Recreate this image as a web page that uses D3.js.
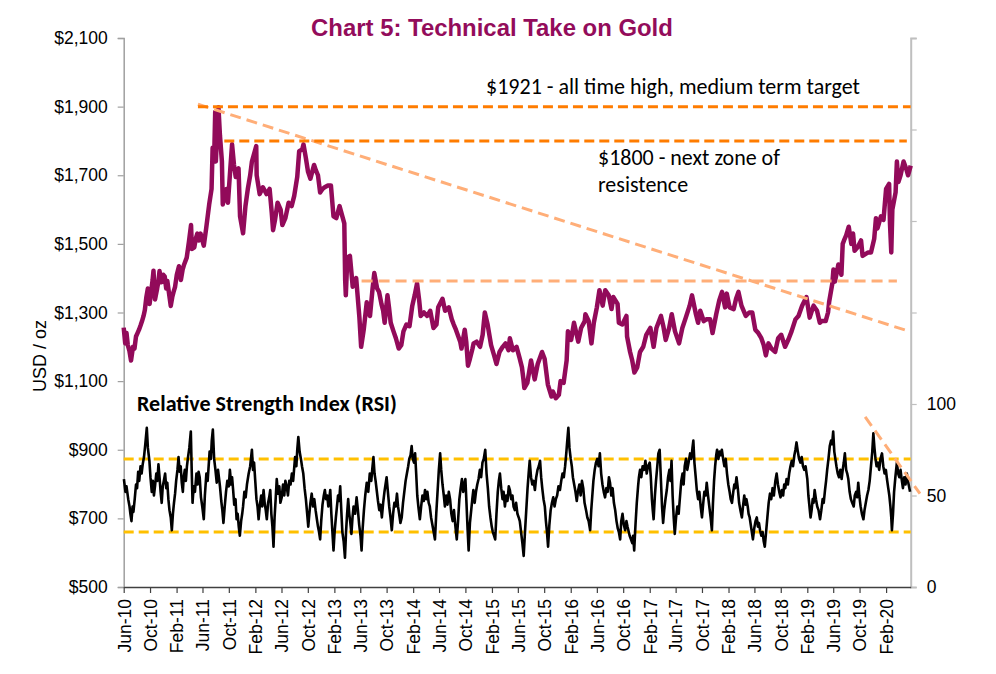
<!DOCTYPE html>
<html><head><meta charset="utf-8">
<script src="https://cdn.jsdelivr.net/npm/d3@7"></script>
<style>html,body{margin:0;padding:0;background:#fff;}svg{display:block;}</style>
</head><body>
<svg id="chart" width="996" height="674"></svg>
<script>
// ---------- DATA ----------
const chartTitle = "Chart 5: Technical Take on Gold";
const yAxisTitle = "USD / oz";
const rsiTitle = "Relative Strength Index (RSI)";
const priceTicks = [500, 700, 900, 1100, 1300, 1500, 1700, 1900, 2100];
const rsiTicks = [0, 50, 100, 150, 200, 250, 300];
const rsiTickLabels = ["0", "50", "100", "", "", "", ""];
const monthTicks = ["Jun-10","Oct-10","Feb-11","Jun-11","Oct-11","Feb-12","Jun-12","Oct-12","Feb-13","Jun-13","Oct-13","Feb-14","Jun-14","Oct-14","Feb-15","Jun-15","Oct-15","Feb-16","Jun-16","Oct-16","Feb-17","Jun-17","Oct-17","Feb-18","Jun-18","Oct-18","Feb-19","Jun-19","Oct-19","Feb-20"];
const dateRange = ["2010-06-01", "2020-05-25"];

const goldSeries = [
["2010-06-01",1256],["2010-06-08",1210],["2010-06-14",1240],["2010-06-20",1205],["2010-06-27",1190],["2010-07-05",1160],["2010-07-14",1200],["2010-07-21",1195],["2010-07-28",1230],["2010-08-04",1240],["2010-08-11",1250],["2010-08-18",1262],["2010-08-25",1275],["2010-09-01",1290],["2010-09-07",1307],["2010-09-14",1345],["2010-09-21",1370],["2010-09-29",1325],["2010-10-06",1360],["2010-10-13",1395],["2010-10-17",1422],["2010-10-24",1338],["2010-11-03",1370],["2010-11-09",1392],["2010-11-14",1421],["2010-11-22",1388],["2010-12-01",1410],["2010-12-08",1405],["2010-12-15",1370],["2010-12-20",1392],["2010-12-26",1365],
["2011-01-05",1319],["2011-01-12",1345],["2011-01-18",1360],["2011-01-25",1375],["2011-02-02",1410],["2011-02-12",1435],["2011-02-21",1395],["2011-03-01",1425],["2011-03-08",1440],["2011-03-20",1460],["2011-03-30",1505],["2011-04-09",1555],["2011-04-13",1485],["2011-04-24",1490],["2011-05-01",1515],["2011-05-08",1530],["2011-05-15",1510],["2011-05-23",1530],["2011-06-07",1495],["2011-06-18",1545],["2011-07-02",1615],["2011-07-13",1660],["2011-07-18",1780],["2011-07-25",1750],["2011-07-30",1885],["2011-08-02",1740],["2011-08-08",1825],["2011-08-14",1898],["2011-08-21",1815],["2011-08-30",1740],["2011-09-03",1615],["2011-09-12",1640],["2011-09-20",1660],["2011-09-27",1620],["2011-10-08",1720],["2011-10-16",1790],["2011-10-25",1730],["2011-11-02",1695],["2011-11-15",1720],["2011-11-22",1580],["2011-12-06",1531],["2011-12-17",1610],["2011-12-28",1660],
["2012-01-08",1700],["2012-01-16",1740],["2012-02-05",1785],["2012-02-07",1700],["2012-02-21",1645],["2012-03-07",1665],["2012-03-24",1645],["2012-04-07",1660],["2012-04-17",1590],["2012-04-23",1540],["2012-05-02",1570],["2012-05-14",1620],["2012-05-28",1600],["2012-06-05",1555],["2012-06-19",1575],["2012-07-04",1620],["2012-07-18",1610],["2012-07-30",1640],["2012-08-13",1695],["2012-08-22",1770],["2012-09-05",1775],["2012-09-11",1790],["2012-09-22",1750],["2012-10-02",1710],["2012-10-13",1690],["2012-10-30",1730],["2012-11-07",1715],["2012-11-17",1700],["2012-11-27",1650],["2012-12-08",1660],["2012-12-18",1665],
["2013-01-02",1670],["2013-01-16",1670],["2013-01-28",1580],["2013-02-10",1575],["2013-02-25",1610],["2013-03-10",1580],["2013-03-19",1560],["2013-03-23",1395],["2013-03-26",1350],["2013-04-02",1460],["2013-04-14",1465],["2013-04-27",1375],["2013-05-13",1400],["2013-05-28",1285],["2013-06-05",1200],["2013-06-17",1250],["2013-07-01",1330],["2013-07-08",1300],["2013-07-16",1290],["2013-07-28",1370],["2013-08-05",1415],["2013-08-18",1370],["2013-08-27",1360],["2013-09-07",1325],["2013-09-15",1305],["2013-09-22",1270],["2013-10-05",1350],["2013-10-12",1315],["2013-10-20",1270],["2013-11-02",1245],["2013-11-13",1225],["2013-11-26",1195],["2013-12-08",1205],["2013-12-18",1245],
["2014-01-01",1265],["2014-01-15",1260],["2014-01-28",1320],["2014-02-08",1350],["2014-02-19",1385],["2014-03-01",1335],["2014-03-08",1290],["2014-03-23",1300],["2014-04-07",1290],["2014-04-21",1305],["2014-05-06",1255],["2014-05-20",1265],["2014-05-28",1315],["2014-06-17",1340],["2014-06-29",1305],["2014-07-16",1315],["2014-07-30",1280],["2014-08-08",1265],["2014-08-18",1250],["2014-09-07",1215],["2014-09-13",1195],["2014-09-28",1250],["2014-10-05",1215],["2014-10-13",1145],["2014-10-22",1165],["2014-11-03",1195],["2014-11-08",1210],["2014-11-22",1215],["2014-12-08",1200],["2014-12-20",1235],["2014-12-30",1300],
["2015-01-12",1265],["2015-01-28",1205],["2015-02-11",1175],["2015-02-22",1150],["2015-03-08",1185],["2015-03-23",1200],["2015-04-05",1210],["2015-04-19",1190],["2015-04-25",1225],["2015-05-09",1190],["2015-05-26",1200],["2015-06-08",1170],["2015-06-20",1140],["2015-06-27",1105],["2015-07-01",1080],["2015-07-15",1095],["2015-08-01",1160],["2015-08-18",1105],["2015-09-01",1150],["2015-09-21",1185],["2015-10-03",1165],["2015-10-18",1090],["2015-11-04",1055],["2015-11-10",1070],["2015-11-24",1050],["2015-12-08",1060],["2015-12-16",1100],["2015-12-30",1095],
["2016-01-13",1160],["2016-01-19",1245],["2016-02-03",1220],["2016-02-16",1270],["2016-03-07",1215],["2016-03-20",1255],["2016-04-06",1275],["2016-04-09",1295],["2016-04-24",1275],["2016-05-07",1210],["2016-05-18",1270],["2016-06-01",1315],["2016-06-13",1365],["2016-06-28",1320],["2016-07-10",1365],["2016-07-26",1350],["2016-08-08",1310],["2016-08-16",1345],["2016-09-05",1325],["2016-09-11",1270],["2016-09-27",1265],["2016-10-16",1290],["2016-10-19",1230],["2016-11-02",1185],["2016-11-12",1160],["2016-11-22",1125],["2016-12-05",1140],["2016-12-18",1185],
["2017-01-02",1200],["2017-01-16",1235],["2017-02-04",1255],["2017-02-19",1200],["2017-03-04",1255],["2017-03-25",1290],["2017-04-05",1260],["2017-04-16",1220],["2017-05-02",1255],["2017-05-14",1295],["2017-05-29",1245],["2017-06-17",1210],["2017-07-02",1255],["2017-07-18",1285],["2017-08-05",1320],["2017-08-16",1350],["2017-09-03",1295],["2017-09-13",1270],["2017-09-23",1305],["2017-10-09",1275],["2017-10-21",1280],["2017-11-08",1280],["2017-11-19",1240],["2017-12-06",1295],["2017-12-20",1335],
["2018-01-02",1360],["2018-01-16",1315],["2018-01-24",1355],["2018-02-06",1315],["2018-02-25",1310],["2018-03-08",1340],["2018-03-19",1360],["2018-04-02",1320],["2018-04-22",1290],["2018-05-08",1300],["2018-05-22",1300],["2018-06-05",1250],["2018-06-19",1240],["2018-07-03",1225],["2018-07-14",1205],["2018-07-24",1175],["2018-08-05",1210],["2018-08-19",1195],["2018-09-05",1185],["2018-09-19",1225],["2018-10-03",1235],["2018-10-21",1200],["2018-11-06",1222],["2018-11-20",1245],["2018-12-08",1280],["2018-12-22",1290],
["2019-01-08",1320],["2019-01-28",1345],["2019-02-12",1285],["2019-03-02",1320],["2019-03-18",1305],["2019-03-31",1270],["2019-04-09",1275],["2019-04-27",1275],["2019-05-08",1300],["2019-05-13",1330],["2019-05-28",1385],["2019-06-02",1425],["2019-06-09",1390],["2019-06-25",1440],["2019-07-09",1410],["2019-07-15",1500],["2019-07-21",1510],["2019-07-31",1525],["2019-08-12",1550],["2019-08-24",1500],["2019-09-01",1530],["2019-09-08",1480],["2019-09-22",1490],["2019-10-08",1510],["2019-10-15",1465],["2019-10-28",1470],["2019-11-10",1475],["2019-11-23",1475],["2019-12-08",1515],["2019-12-16",1575],["2019-12-23",1545],
["2020-01-08",1580],["2020-01-20",1570],["2020-02-01",1660],["2020-02-15",1675],["2020-02-19",1560],["2020-02-25",1475],["2020-03-01",1600],["2020-03-16",1650],["2020-03-22",1740],["2020-03-29",1680],["2020-04-08",1700],["2020-04-22",1740],["2020-05-06",1715],["2020-05-13",1700],["2020-05-25",1728]
];

const rsiSeries = [
["2010-06-02",59],["2010-06-09",52],["2010-06-14",55],["2010-06-22",48],["2010-06-28",44],["2010-07-02",40],["2010-07-07",36],["2010-07-12",44],["2010-07-16",41],["2010-07-22",48],["2010-07-28",56],["2010-08-02",54],["2010-08-07",63],["2010-08-12",58],["2010-08-18",66],["2010-08-23",62],["2010-08-28",67],["2010-09-03",71],["2010-09-09",78],["2010-09-16",87],["2010-09-21",76],["2010-09-28",69],["2010-10-03",60],["2010-10-09",52],["2010-10-14",58],["2010-10-19",50],["2010-10-24",55],["2010-10-30",62],["2010-11-04",58],["2010-11-09",67],["2010-11-14",60],["2010-11-19",52],["2010-11-24",46],["2010-11-29",55],["2010-12-04",58],["2010-12-10",62],["2010-12-15",54],["2010-12-20",57],["2010-12-25",48],["2010-12-30",42],
["2011-01-05",38],["2011-01-10",31],["2011-01-15",40],["2011-01-20",46],["2011-01-25",51],["2011-01-30",58],["2011-02-05",64],["2011-02-10",71],["2011-02-15",63],["2011-02-20",66],["2011-02-25",57],["2011-03-02",52],["2011-03-06",60],["2011-03-11",64],["2011-03-16",58],["2011-03-21",66],["2011-03-26",71],["2011-04-01",76],["2011-04-08",85],["2011-04-12",64],["2011-04-16",46],["2011-04-21",55],["2011-04-27",52],["2011-05-04",62],["2011-05-09",56],["2011-05-14",63],["2011-05-19",60],["2011-05-25",49],["2011-05-31",44],["2011-06-07",37],["2011-06-12",50],["2011-06-19",62],["2011-06-25",58],["2011-07-04",74],["2011-07-10",70],["2011-07-14",80],["2011-07-19",86],["2011-07-25",70],["2011-07-31",64],["2011-08-06",57],["2011-08-12",64],["2011-08-16",60],["2011-08-21",55],["2011-08-27",47],["2011-09-01",42],["2011-09-06",35],["2011-09-12",44],["2011-09-18",52],["2011-09-24",58],["2011-10-01",55],["2011-10-06",64],["2011-10-12",56],["2011-10-16",60],["2011-10-21",53],["2011-10-26",45],["2011-11-01",48],["2011-11-06",37],["2011-11-11",40],["2011-11-16",33],["2011-11-21",28],["2011-11-27",36],["2011-12-02",40],["2011-12-06",44],["2011-12-12",52],["2011-12-18",49],["2011-12-24",56],
["2012-01-01",62],["2012-01-08",66],["2012-01-16",75],["2012-01-21",64],["2012-01-26",68],["2012-02-01",57],["2012-02-06",48],["2012-02-11",44],["2012-02-16",37],["2012-02-22",45],["2012-02-28",50],["2012-03-04",44],["2012-03-10",53],["2012-03-15",46],["2012-03-20",42],["2012-03-25",37],["2012-03-31",46],["2012-04-05",49],["2012-04-10",53],["2012-04-15",40],["2012-04-20",33],["2012-04-25",22],["2012-04-30",38],["2012-05-05",48],["2012-05-10",59],["2012-05-16",51],["2012-05-22",55],["2012-05-27",46],["2012-06-02",49],["2012-06-08",56],["2012-06-14",50],["2012-06-19",58],["2012-06-25",55],["2012-07-01",50],["2012-07-07",58],["2012-07-13",56],["2012-07-19",62],["2012-07-25",58],["2012-08-03",71],["2012-08-09",66],["2012-08-13",75],["2012-08-18",82],["2012-08-24",74],["2012-08-30",70],["2012-09-04",66],["2012-09-10",62],["2012-09-16",54],["2012-09-22",48],["2012-09-28",40],["2012-10-03",33],["2012-10-08",40],["2012-10-13",46],["2012-10-19",51],["2012-10-25",44],["2012-10-31",48],["2012-11-06",42],["2012-11-12",37],["2012-11-17",33],["2012-11-22",30],["2012-11-27",26],["2012-12-02",36],["2012-12-08",45],["2012-12-14",50],["2012-12-19",53],["2012-12-24",48],["2012-12-30",50],
["2013-01-04",44],["2013-01-09",49],["2013-01-13",53],["2013-01-18",40],["2013-01-23",30],["2013-01-28",20],["2013-02-02",30],["2013-02-08",38],["2013-02-13",44],["2013-02-18",50],["2013-02-23",47],["2013-02-28",55],["2013-03-05",42],["2013-03-10",30],["2013-03-16",25],["2013-03-22",16],["2013-03-27",30],["2013-04-01",40],["2013-04-06",48],["2013-04-11",40],["2013-04-16",35],["2013-04-21",29],["2013-04-26",38],["2013-05-01",44],["2013-05-08",40],["2013-05-15",49],["2013-05-21",42],["2013-05-27",34],["2013-06-02",28],["2013-06-07",20],["2013-06-12",32],["2013-06-18",42],["2013-06-24",50],["2013-07-01",57],["2013-07-08",52],["2013-07-15",62],["2013-07-22",58],["2013-07-27",65],["2013-08-01",71],["2013-08-06",62],["2013-08-11",58],["2013-08-16",53],["2013-08-22",47],["2013-08-28",42],["2013-09-03",45],["2013-09-09",38],["2013-09-15",46],["2013-09-21",52],["2013-09-26",56],["2013-10-01",60],["2013-10-07",52],["2013-10-13",44],["2013-10-19",38],["2013-10-25",31],["2013-10-31",40],["2013-11-06",46],["2013-11-12",44],["2013-11-18",51],["2013-11-23",44],["2013-11-28",40],["2013-12-04",35],["2013-12-10",38],["2013-12-16",46],["2013-12-22",52],["2013-12-28",58],
["2014-01-03",62],["2014-01-09",66],["2014-01-14",70],["2014-01-20",72],["2014-01-25",77],["2014-01-30",70],["2014-02-05",68],["2014-02-10",73],["2014-02-15",62],["2014-02-20",50],["2014-02-25",44],["2014-03-04",37],["2014-03-10",44],["2014-03-16",50],["2014-03-22",47],["2014-03-28",53],["2014-04-02",48],["2014-04-08",52],["2014-04-14",46],["2014-04-19",44],["2014-04-25",38],["2014-05-01",34],["2014-05-07",30],["2014-05-13",26],["2014-05-19",40],["2014-05-25",52],["2014-05-31",64],["2014-06-06",73],["2014-06-11",64],["2014-06-17",56],["2014-06-23",50],["2014-06-28",44],["2014-07-04",50],["2014-07-10",45],["2014-07-16",52],["2014-07-22",48],["2014-07-28",40],["2014-08-03",36],["2014-08-09",42],["2014-08-15",34],["2014-08-22",26],["2014-08-28",36],["2014-09-03",48],["2014-09-09",54],["2014-09-15",59],["2014-09-21",52],["2014-09-26",56],["2014-10-01",59],["2014-10-06",46],["2014-10-11",32],["2014-10-16",20],["2014-10-22",35],["2014-10-28",42],["2014-11-02",48],["2014-11-07",53],["2014-11-13",46],["2014-11-19",52],["2014-11-25",56],["2014-12-01",59],["2014-12-07",64],["2014-12-13",60],["2014-12-19",68],["2014-12-25",70],
["2015-01-01",75],["2015-01-07",62],["2015-01-13",54],["2015-01-19",44],["2015-01-25",38],["2015-01-31",33],["2015-02-05",30],["2015-02-11",28],["2015-02-16",26],["2015-02-22",40],["2015-02-28",52],["2015-03-05",58],["2015-03-10",62],["2015-03-16",54],["2015-03-22",48],["2015-03-27",52],["2015-04-02",44],["2015-04-08",50],["2015-04-14",47],["2015-04-20",55],["2015-04-25",53],["2015-05-01",48],["2015-05-07",50],["2015-05-12",44],["2015-05-18",42],["2015-05-24",46],["2015-05-30",40],["2015-06-05",38],["2015-06-10",36],["2015-06-16",30],["2015-06-22",24],["2015-06-28",17],["2015-07-04",30],["2015-07-10",42],["2015-07-16",54],["2015-07-21",62],["2015-07-26",69],["2015-08-01",60],["2015-08-07",56],["2015-08-13",58],["2015-08-19",53],["2015-08-25",60],["2015-08-31",64],["2015-09-06",66],["2015-09-12",69],["2015-09-17",60],["2015-09-22",54],["2015-09-28",48],["2015-10-04",44],["2015-10-09",36],["2015-10-14",30],["2015-10-19",22],["2015-10-25",34],["2015-10-31",42],["2015-11-06",46],["2015-11-12",49],["2015-11-18",44],["2015-11-24",48],["2015-11-30",50],["2015-12-06",55],["2015-12-13",53],["2015-12-19",58],["2015-12-25",62],["2015-12-31",60],
["2016-01-06",66],["2016-01-12",74],["2016-01-16",80],["2016-01-21",87],["2016-01-26",76],["2016-02-01",70],["2016-02-06",66],["2016-02-11",60],["2016-02-17",56],["2016-02-23",52],["2016-02-29",47],["2016-03-05",52],["2016-03-12",56],["2016-03-18",50],["2016-03-24",58],["2016-03-30",54],["2016-04-05",46],["2016-04-12",42],["2016-04-18",38],["2016-04-24",36],["2016-05-01",31],["2016-05-06",42],["2016-05-11",50],["2016-05-16",58],["2016-05-22",64],["2016-05-28",68],["2016-06-03",70],["2016-06-09",66],["2016-06-15",73],["2016-06-21",62],["2016-06-27",56],["2016-07-03",52],["2016-07-09",49],["2016-07-15",54],["2016-07-21",52],["2016-07-27",60],["2016-08-01",57],["2016-08-07",50],["2016-08-13",54],["2016-08-19",46],["2016-08-25",42],["2016-08-31",36],["2016-09-06",32],["2016-09-11",30],["2016-09-17",26],["2016-09-22",36],["2016-09-28",40],["2016-10-04",34],["2016-10-10",31],["2016-10-16",36],["2016-10-21",33],["2016-10-25",31],["2016-10-31",28],["2016-11-06",26],["2016-11-12",24],["2016-11-16",28],["2016-11-21",20],["2016-11-27",34],["2016-12-03",46],["2016-12-09",55],["2016-12-13",60],["2016-12-18",64],["2016-12-24",60],["2016-12-30",66],
["2017-01-06",64],["2017-01-12",69],["2017-01-18",62],["2017-01-24",66],["2017-02-01",68],["2017-02-06",60],["2017-02-11",48],["2017-02-15",42],["2017-02-19",37],["2017-02-25",50],["2017-03-02",58],["2017-03-08",66],["2017-03-13",73],["2017-03-19",75],["2017-03-25",58],["2017-03-30",44],["2017-04-04",35],["2017-04-09",42],["2017-04-15",48],["2017-04-21",53],["2017-04-27",60],["2017-05-03",64],["2017-05-08",58],["2017-05-13",69],["2017-05-18",50],["2017-05-23",38],["2017-05-28",29],["2017-06-03",38],["2017-06-09",44],["2017-06-15",40],["2017-06-21",49],["2017-06-27",58],["2017-07-03",62],["2017-07-08",56],["2017-07-13",66],["2017-07-19",70],["2017-07-25",64],["2017-07-31",68],["2017-08-07",73],["2017-08-13",70],["2017-08-18",76],["2017-08-22",80],["2017-08-27",68],["2017-09-02",60],["2017-09-07",53],["2017-09-13",48],["2017-09-19",52],["2017-09-25",44],["2017-10-01",38],["2017-10-07",46],["2017-10-12",52],["2017-10-18",50],["2017-10-23",57],["2017-10-29",50],["2017-11-04",44],["2017-11-10",38],["2017-11-16",31],["2017-11-21",46],["2017-11-26",58],["2017-12-01",66],["2017-12-06",72],["2017-12-10",75],["2017-12-16",70],["2017-12-22",74],["2017-12-27",72],
["2018-01-01",75],["2018-01-07",70],["2018-01-13",66],["2018-01-19",70],["2018-01-25",62],["2018-01-31",56],["2018-02-06",52],["2018-02-11",48],["2018-02-17",46],["2018-02-23",52],["2018-02-28",56],["2018-03-04",54],["2018-03-10",60],["2018-03-16",54],["2018-03-22",46],["2018-03-28",42],["2018-04-04",38],["2018-04-09",44],["2018-04-15",50],["2018-04-20",45],["2018-04-25",48],["2018-05-01",44],["2018-05-05",40],["2018-05-10",38],["2018-05-15",34],["2018-05-20",30],["2018-05-25",26],["2018-05-31",32],["2018-06-06",36],["2018-06-12",38],["2018-06-17",33],["2018-06-22",35],["2018-06-27",31],["2018-07-03",28],["2018-07-09",30],["2018-07-14",25],["2018-07-19",22],["2018-07-25",30],["2018-07-31",38],["2018-08-06",46],["2018-08-12",51],["2018-08-18",48],["2018-08-24",54],["2018-08-30",50],["2018-09-06",58],["2018-09-12",62],["2018-09-18",56],["2018-09-24",52],["2018-09-30",49],["2018-10-06",53],["2018-10-12",50],["2018-10-17",56],["2018-10-22",54],["2018-10-28",59],["2018-11-03",56],["2018-11-09",62],["2018-11-15",66],["2018-11-21",69],["2018-11-27",66],["2018-12-03",72],["2018-12-08",75],["2018-12-13",79],["2018-12-19",74],["2018-12-25",70],["2018-12-31",68],
["2019-01-06",71],["2019-01-12",66],["2019-01-18",64],["2019-01-24",66],["2019-02-01",59],["2019-02-06",50],["2019-02-11",44],["2019-02-16",38],["2019-02-21",42],["2019-02-26",48],["2019-03-02",46],["2019-03-07",53],["2019-03-13",48],["2019-03-19",44],["2019-03-25",42],["2019-04-01",37],["2019-04-07",42],["2019-04-13",48],["2019-04-18",46],["2019-04-24",53],["2019-04-29",58],["2019-05-04",64],["2019-05-10",70],["2019-05-16",77],["2019-05-22",80],["2019-05-27",78],["2019-06-01",85],["2019-06-06",74],["2019-06-11",70],["2019-06-16",66],["2019-06-22",62],["2019-06-28",60],["2019-07-04",64],["2019-07-10",59],["2019-07-15",64],["2019-07-20",68],["2019-07-25",73],["2019-07-31",64],["2019-08-05",62],["2019-08-10",59],["2019-08-16",52],["2019-08-22",48],["2019-08-28",46],["2019-09-04",44],["2019-09-09",50],["2019-09-15",52],["2019-09-20",49],["2019-09-25",57],["2019-09-30",50],["2019-10-06",44],["2019-10-12",40],["2019-10-19",37],["2019-10-24",42],["2019-10-30",46],["2019-11-05",50],["2019-11-11",53],["2019-11-17",58],["2019-11-23",66],["2019-11-29",74],["2019-12-04",84],["2019-12-09",76],["2019-12-14",70],["2019-12-19",66],["2019-12-25",68],["2019-12-31",64],
["2020-01-06",70],["2020-01-13",73],["2020-01-19",66],["2020-01-25",62],["2020-01-31",64],["2020-02-05",59],["2020-02-11",54],["2020-02-16",50],["2020-02-21",44],["2020-02-25",38],["2020-02-28",31],["2020-03-04",40],["2020-03-09",52],["2020-03-15",60],["2020-03-22",68],["2020-03-28",62],["2020-04-02",60],["2020-04-08",64],["2020-04-13",59],["2020-04-19",54],["2020-04-25",60],["2020-05-01",56],["2020-05-07",62],["2020-05-12",58],["2020-05-17",55],["2020-05-22",52]
];

// reference / trend lines: [startDate, startValue, endDate, endValue]
const athLine = ["2011-05-11", 1900, "2020-05-25", 1900];
const resistLine = ["2011-09-10", 1800, "2020-05-07", 1800];
const downTrend = ["2011-05-11", 1907, "2020-04-29", 1249];
const supportLine = ["2013-06-07", 1392, "2020-03-22", 1392];
const rsiTrend = ["2019-10-27", 93, "2020-07-07", 51];
const rsiBands = [70, 30];
const annotAth = "$1921 - all time high, medium term target";
const annotResist = ["$1800 - next zone of", "resistence"];

// ---------- CHART ----------
const svg = d3.select("#chart");
const parse = d3.timeParse("%Y-%m-%d");
const parseTick = d3.timeParse("%b-%y");
const fmtTick = d3.timeFormat("%b-%y");
const L = 123.7, R = 910.7, T = 38, B = 587;

const x = d3.scaleTime().domain(dateRange.map(parse)).range([L, R]);
const yP = d3.scaleLinear().domain([500, 2100]).range([B, T]);
const yR = d3.scaleLinear().domain([0, 300]).range([B, T]);

const tickFont = "'Liberation Sans', Arial, sans-serif";
const calFont = "Carlito, Calibri, Lato, 'Open Sans', sans-serif";

function fitWidth(sel, w) {
  const cur = sel.node().getComputedTextLength();
  const fs = parseFloat(sel.attr("font-size"));
  sel.attr("font-size", (fs * w / cur).toFixed(2));
}

// title
const tt = svg.append("text").attr("x", 492).attr("y", 36).attr("text-anchor", "middle")
  .attr("font-family", tickFont).attr("font-weight", "bold").attr("font-size", 22)
  .attr("fill", "#930C5B").text(chartTitle);
fitWidth(tt, 362);

// left axis
const leftAxis = svg.append("g").attr("transform", `translate(${L},0)`)
  .call(d3.axisLeft(yP).tickValues(priceTicks).tickSize(6).tickFormat(d => "$" + d3.format(",")(d)));
leftAxis.select(".domain").attr("stroke", "#a0a0a0").attr("stroke-width", 1.5);
leftAxis.selectAll(".tick line").attr("stroke", "#a0a0a0").attr("stroke-width", 1.2);
leftAxis.selectAll("text").attr("font-family", tickFont).attr("font-size", 17.5).attr("fill", "#000").attr("x", -16);

// right axis
const rightAxis = svg.append("g").attr("transform", `translate(${R},0)`)
  .call(d3.axisRight(yR).tickValues(rsiTicks).tickSize(6).tickFormat((d, i) => rsiTickLabels[i]));
rightAxis.select(".domain").attr("stroke", "#bfbfbf").attr("stroke-width", 2);
rightAxis.selectAll(".tick line").attr("stroke", "#bfbfbf").attr("stroke-width", 1.2);
rightAxis.selectAll("text").attr("font-family", tickFont).attr("font-size", 17.5).attr("fill", "#000").attr("x", 16);

// bottom axis
const bottomAxis = svg.append("g").attr("transform", `translate(0,${B})`)
  .call(d3.axisBottom(x).tickValues(monthTicks.map(parseTick)).tickSize(6).tickFormat(fmtTick).tickSizeOuter(0));
bottomAxis.select(".domain").attr("stroke", "#404040").attr("stroke-width", 1.5);
bottomAxis.selectAll(".tick line").attr("stroke", "#404040").attr("stroke-width", 1.2);
bottomAxis.selectAll("text").attr("font-family", tickFont).attr("font-size", 17.5).attr("fill", "#000")
  .attr("transform", "rotate(-90)").attr("text-anchor", "end").attr("x", -12).attr("y", 0).attr("dy", "0.36em");

// y axis title
const yt = svg.append("text").attr("transform", "translate(46,356) rotate(-90)").attr("text-anchor", "middle")
  .attr("font-family", tickFont).attr("font-size", 18).attr("fill", "#000").text(yAxisTitle);
fitWidth(yt, 72);

// segments helper
function seg(def, yScale, color, dash, width) {
  svg.append("line")
    .attr("x1", x(parse(def[0]))).attr("y1", yScale(def[1]))
    .attr("x2", x(parse(def[2]))).attr("y2", yScale(def[3]))
    .attr("stroke", color).attr("stroke-width", width).attr("stroke-dasharray", dash);
}

// RSI bands
rsiBands.forEach(v => seg([dateRange[0], v, dateRange[1], v], yR, "#FFC000", "10,5", 3));

// RSI line
const rsiLine = d3.line().x(d => x(parse(d[0]))).y(d => yR(d[1]));
svg.append("path").datum(rsiSeries).attr("d", rsiLine).attr("fill", "none")
  .attr("stroke", "#000").attr("stroke-width", 2.6).attr("stroke-linejoin", "round");

// Gold line
const goldLine = d3.line().x(d => x(parse(d[0]))).y(d => yP(d[1]));
svg.append("path").datum(goldSeries).attr("d", goldLine).attr("fill", "none")
  .attr("stroke", "#920A5A").attr("stroke-width", 4.5).attr("stroke-linejoin", "round");

// trend lines
seg(downTrend, yP, "#FFAE78", "11,6", 3);
seg(supportLine, yP, "#FFAE78", "11,6", 3);
seg(athLine, yP, "#FF7C00", "10,5", 3);
seg(resistLine, yP, "#FF7C00", "10,5", 3);
seg(rsiTrend, yR, "#FFAE78", "11,6", 3);

// RSI title
const rt = svg.append("text").attr("x", 137).attr("y", 411)
  .attr("font-family", calFont).attr("font-weight", "bold").attr("font-size", 18).attr("fill", "#000").text(rsiTitle);
fitWidth(rt, 260);

// annotations
const a1 = svg.append("text").attr("x", 486).attr("y", 94)
  .attr("font-family", calFont).attr("font-size", 20).attr("fill", "#000").text(annotAth);
fitWidth(a1, 374);
const a2 = svg.append("text").attr("x", 598).attr("y", 165)
  .attr("font-family", calFont).attr("font-size", 20).attr("fill", "#000").text(annotResist[0]);
fitWidth(a2, 182);
svg.append("text").attr("x", 598).attr("y", 192)
  .attr("font-family", calFont).attr("font-size", a2.attr("font-size")).attr("fill", "#000").text(annotResist[1]);
</script>
</body></html>
